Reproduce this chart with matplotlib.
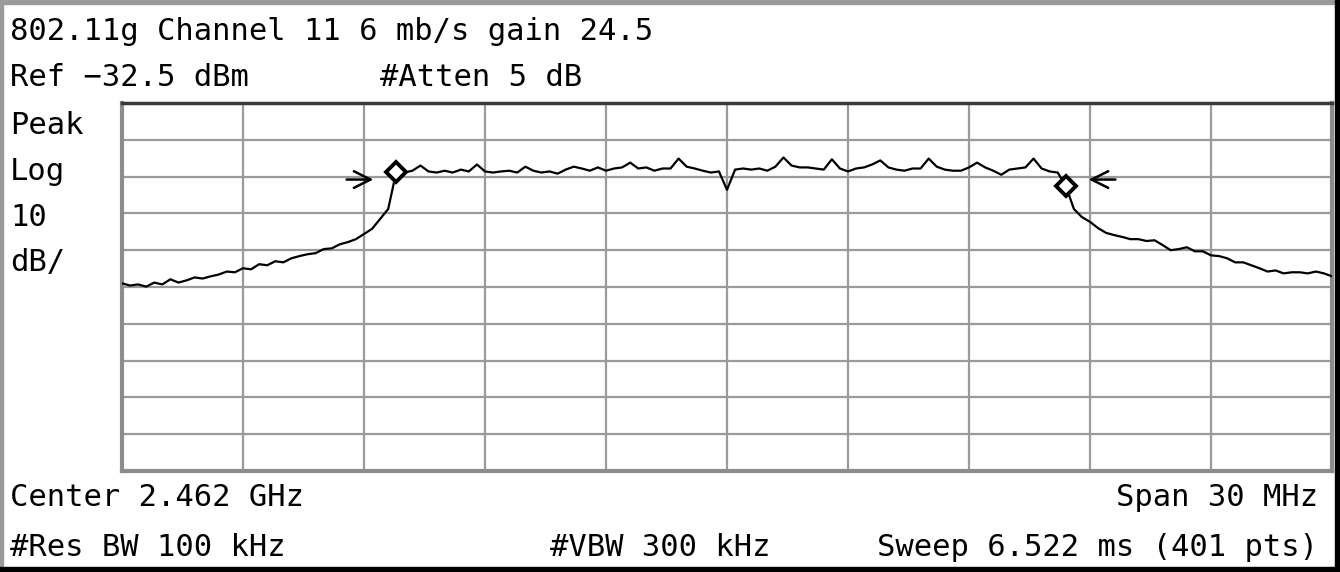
import numpy as np
import matplotlib
matplotlib.use('Agg')
import matplotlib.pyplot as plt
from matplotlib.patches import Rectangle

# Analyzer settings
center_mhz = 2462.0
span_mhz = 30.0
ref_level = -32.5
db_per_div = 10.0

# Trace, one value every 0.2 MHz from 2447 to 2477 MHz (dBm)
trace_dbm = [
    -81.5, -82.1, -81.8, -82.4, -81.3, -81.8, -80.4, -81.3, -80.7, -79.9,
    -80.2, -79.6, -79.1, -78.3, -78.5, -77.4, -77.7, -76.3, -76.6, -75.5,
    -75.8, -74.7, -74.1, -73.6, -73.3, -72.2, -72.0, -70.9, -70.3, -69.5,
    -68.1, -66.7, -64.0, -61.3, -51.2, -51.4, -50.9, -49.5, -51.1, -51.4,
    -50.9, -51.4, -50.6, -51.1, -49.2, -51.1, -51.4, -51.1, -50.9, -51.4,
    -49.8, -50.9, -51.4, -51.1, -51.7, -50.6, -49.8, -50.3, -50.9, -50.0,
    -50.9, -50.3, -50.0, -48.7, -50.3, -50.0, -50.9, -50.3, -50.3, -47.6,
    -49.8, -50.3, -50.9, -51.4, -51.1, -56.1, -50.6, -50.3, -50.6, -50.3,
    -50.9, -49.8, -47.3, -49.5, -50.0, -50.0, -50.3, -50.6, -47.8, -50.3,
    -51.1, -50.3, -50.0, -49.2, -48.1, -50.0, -50.6, -50.9, -50.3, -50.3,
    -47.6, -49.8, -50.6, -50.9, -50.9, -50.0, -48.7, -50.0, -50.9, -52.0,
    -50.6, -50.3, -50.0, -47.6, -50.3, -51.1, -51.4, -55.0, -61.3, -63.5,
    -64.8, -66.5, -67.8, -68.4, -68.9, -69.5, -69.5, -70.0, -69.8, -71.1,
    -72.5, -72.2, -71.7, -72.8, -72.8, -73.9, -74.1, -74.7, -75.8, -75.8,
    -76.6, -77.4, -78.3, -78.0, -78.8, -78.5, -78.5, -78.8, -78.3, -78.8,
    -79.6,
]

# Delta markers (MHz, dBm)
marker_freqs = [2453.8, 2470.4]
marker_levels = [-51.2, -55.0]
arrow_dirs = [1, -1]   # left arrow points right, right arrow points left

header_lines = ["802.11g Channel 11 6 mb/s gain 24.5"]
side_labels = ["Peak", "Log", "10", "dB/"]

W, H = 1340, 572
FONT = 'DejaVu Sans Mono'


def px(x, y):
    """pixel position (from top left) -> figure fraction"""
    return x / W, 1 - y / H


def put(x, y, s, ha='left'):
    fx, fy = px(x, y)
    fig.text(fx, fy, s, ha=ha, va='center', fontsize=22, family=FONT, color='black')


fig = plt.figure(figsize=(W / 100, H / 100), dpi=100)
fig.patch.set_facecolor('white')

# plot area
left, right, top, bottom = 122, 1332, 103, 471
ax = fig.add_axes([left / W, 1 - bottom / H, (right - left) / W, (bottom - top) / H])

f_start = center_mhz - span_mhz / 2
f_stop = center_mhz + span_mhz / 2
freqs = np.linspace(f_start, f_stop, len(trace_dbm))

ax.plot(freqs, trace_dbm, color='black', lw=1.6, zorder=3)
ax.plot(marker_freqs, marker_levels, linestyle='none', marker='D', markersize=10,
        markerfacecolor='white', markeredgecolor='black', markeredgewidth=2.8, zorder=4)

# arrows next to the markers
for f, lvl, d in zip(marker_freqs, marker_levels, arrow_dirs):
    tip = f - d * 0.5
    ax.annotate('', xy=(tip, -53.3), xytext=(tip - d * 0.8, -53.3),
                arrowprops=dict(arrowstyle='->', lw=1.8, color='black', mutation_scale=30),
                zorder=4)

ax.set_xlim(f_start, f_stop)
ax.set_ylim(ref_level - 10 * db_per_div, ref_level)
ax.set_xticks(np.linspace(f_start, f_stop, 11))
ax.set_yticks(np.linspace(ref_level - 10 * db_per_div, ref_level, 11))
ax.tick_params(length=0, labelbottom=False, labelleft=False)
ax.grid(True, color='#9a9a9a', lw=1.6)
ax.set_axisbelow(True)
for side in ['left', 'right', 'bottom']:
    ax.spines[side].set_color('#8c8c8c')
    ax.spines[side].set_linewidth(3)
ax.spines['top'].set_color('#3a3a3a')
ax.spines['top'].set_linewidth(2.5)

# screen border
fig.add_artist(Rectangle((0, 1 - 4 / H), 1, 4 / H, transform=fig.transFigure, color='#9a9a9a'))
fig.add_artist(Rectangle((0, 0), 3 / W, 1, transform=fig.transFigure, color='#9a9a9a'))
fig.add_artist(Rectangle((1 - 5 / W, 0), 5 / W, 1, transform=fig.transFigure, color='black'))
fig.add_artist(Rectangle((0, 0), 1, 5 / H, transform=fig.transFigure, color='black'))

# annotation text
put(10, 32, header_lines[0])
put(10, 78, f"Ref {ref_level:.1f} dBm".replace('-', '\u2212'))
put(380, 78, "#Atten 5 dB")
for i, s in enumerate(side_labels):
    put(10, 125 + i * 46, s)
put(10, 497, f"Center {center_mhz / 1000:.3f} GHz")
put(1318, 497, f"Span {span_mhz:.0f} MHz", ha='right')
put(10, 547, "#Res BW 100 kHz")
put(550, 547, "#VBW 300 kHz")
put(1318, 547, "Sweep 6.522 ms (401 pts)", ha='right')

fig.savefig('out.png', dpi=100)
